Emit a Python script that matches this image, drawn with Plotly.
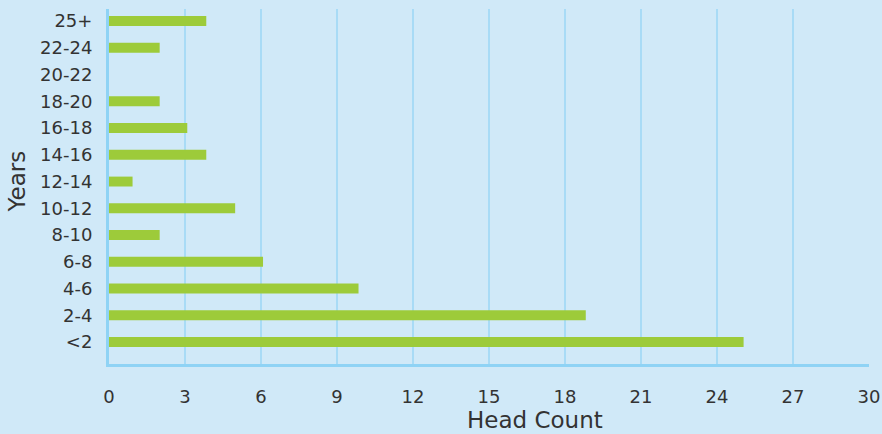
import plotly.graph_objects as go

categories = ["<2", "2-4", "4-6", "6-8", "8-10", "10-12", "12-14", "14-16", "16-18", "18-20", "20-22", "22-24", "25+"]
head_count = [25.05, 18.82, 9.85, 6.08, 2.0, 4.98, 0.93, 3.84, 3.09, 2.0, 0, 2.0, 3.84]
x_ticks = [0, 3, 6, 9, 12, 15, 18, 21, 24, 27, 30]

bg = "#d0e9f8"
font_family = "DejaVu Sans, sans-serif"
fig = go.Figure(go.Bar(
    y=categories, x=head_count, orientation="h",
    marker=dict(color="#9dcb3a", line=dict(width=0)),
    width=0.37,
))
fig.update_layout(
    width=882, height=434,
    paper_bgcolor=bg, plot_bgcolor=bg,
    margin=dict(l=109, r=13, t=9, b=70, autoexpand=False),
    font=dict(family=font_family, size=18, color="#333333"),
    showlegend=False,
    annotations=[
        dict(text="Head Count", xref="paper", yref="paper", x=0.5605, y=0,
             yshift=-56, xanchor="center", yanchor="middle", showarrow=False,
             font=dict(size=23, color="#333333")),
        dict(text="Years", xref="paper", yref="paper", x=0, y=0.5,
             xshift=-93, yshift=5, xanchor="center", yanchor="middle",
             textangle=-90, showarrow=False,
             font=dict(size=23, color="#333333")),
    ],
)
fig.update_xaxes(
    range=[0, 30], tickvals=x_ticks, ticktext=[str(v) for v in x_ticks],
    showgrid=True, gridcolor="#a8dbf6", gridwidth=2,
    showline=True, linecolor="#8fd3f5", linewidth=3,
    zeroline=False, ticks="", ticklabelstandoff=14, automargin=False,
)
fig.update_yaxes(
    type="category",
    categoryorder="array", categoryarray=categories,
    range=[-0.82, 12.45],
    showline=True, linecolor="#8fd3f5", linewidth=3,
    showgrid=False, ticks="", ticklabelstandoff=10, automargin=False,
)
fig.write_html(
    "out.html",
    config={"displayModeBar": False},
    post_script="document.body.style.margin='0';document.body.style.background='%s';" % bg,
)
